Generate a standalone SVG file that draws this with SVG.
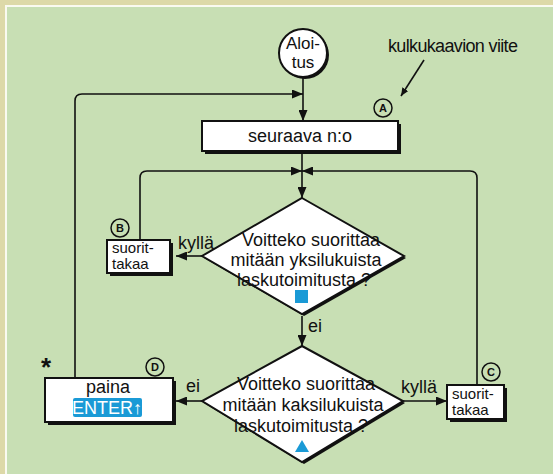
<svg xmlns="http://www.w3.org/2000/svg" width="553" height="474" viewBox="0 0 553 474">
<defs>
<marker id="ah" markerWidth="11" markerHeight="9" refX="11" refY="4.5" orient="auto" markerUnits="userSpaceOnUse">
<path d="M0,0 L11,4.5 L0,9 z" fill="#111"/>
</marker>
<marker id="ahs" markerWidth="8" markerHeight="7" refX="8" refY="3.5" orient="auto" markerUnits="userSpaceOnUse">
<path d="M0,0 L8,3.5 L0,7 z" fill="#111"/>
</marker>
</defs>
<style>
text{font-family:"Liberation Sans",Arial,sans-serif;fill:#111;}
.t{font-size:18px;}
.s{font-size:15px;}
.lbl{font-size:11px;font-weight:bold;text-anchor:middle;}
.c{text-anchor:middle;}
.box{fill:#fff;stroke:#111;stroke-width:2;}
.sh{fill:#111;}
.ref{fill:none;stroke:#111;stroke-width:1.5;}
.con{fill:none;stroke:#111;stroke-width:1.6;}
</style>
<rect x="0" y="0" width="553" height="474" fill="#ddd9a8"/>
<rect x="5" y="5" width="548" height="469" fill="#fafaf0"/>
<rect x="7" y="7" width="546" height="467" fill="#c8dfb4"/>

<g id="connectors">
<path class="con" d="M303,78 L303,121" marker-end="url(#ah)"/>
<path class="con" d="M75,378 L75,101 Q75,94 82,94 L303,94" marker-end="url(#ah)"/>
<path class="con" d="M302,151 L302,198" marker-end="url(#ah)"/>
<path class="con" d="M140,240 L140,178 Q140,171 147,171 L302,171" marker-end="url(#ah)"/>
<path class="con" d="M477,385 L477,178 Q477,171 470,171 L302,171" marker-end="url(#ah)"/>
<path class="con" d="M202,256 L176,256" marker-end="url(#ah)"/>
<path class="con" d="M302,316 L302,346" marker-end="url(#ah)"/>
<path class="con" d="M202,401 L176,401" marker-end="url(#ah)"/>
<path class="con" d="M402,401 L447,401" marker-end="url(#ah)"/>
<path class="con" d="M424,60 L401,96" stroke-width="1.5" marker-end="url(#ahs)"/>
<text class="t" x="308" y="332">ei</text>
<text class="t" x="178" y="249">kyllä</text>
<text class="t" x="186" y="392">ei</text>
<text class="t" x="401" y="393">kyllä</text>
</g>

<g id="aloitus">
<circle cx="305" cy="55" r="24" class="sh"/>
<circle cx="303" cy="53" r="24" class="box"/>
<text class="c" x="303" y="49" style="font-size:17px">Aloi-</text>
<text class="c" x="303" y="68" style="font-size:17px">tus</text>
</g>

<g id="viite">
<text x="388" y="52" style="font-size:18px" textLength="130">kulkukaavion viite</text>
</g>

<g id="seuraava">
<rect x="205" y="124" width="196" height="30" class="sh"/>
<rect x="202" y="121" width="196" height="30" class="box"/>
<text class="t c" x="300" y="142">seuraava n:o</text>
<circle cx="383" cy="108" r="9" class="ref"/>
<text class="lbl" x="383" y="112">A</text>
</g>

<g id="decision1">
<polygon points="304,200 406,258 304,316 204,258" class="sh"/>
<polygon points="302,198 404,256 302,314 202,256" class="box"/>
<text class="t c" x="311" y="246">Voitteko suorittaa</text>
<text class="t c" x="306" y="266">mitään yksilukuista</text>
<text class="t c" x="304" y="286">laskutoimitusta ?</text>
<rect x="295" y="290" width="13" height="13" fill="#1a9ad6"/>
</g>

<g id="suoritB">
<rect x="110" y="243" width="63" height="33" class="sh"/>
<rect x="107" y="240" width="63" height="33" class="box"/>
<text class="s" x="112" y="253">suorit-</text>
<text class="s" x="112" y="269">takaa</text>
<circle cx="120" cy="228" r="9" class="ref"/>
<text class="lbl" x="120" y="232">B</text>
</g>

<g id="decision2">
<polygon points="304,348 405,403 304,464 204,403" class="sh"/>
<polygon points="302,346 403,401 302,462 202,401" class="box"/>
<text class="t c" x="306" y="390">Voitteko suorittaa</text>
<text class="t c" x="303" y="411">mitään kaksilukuista</text>
<text class="t c" x="301" y="432">laskutoimitusta ?</text>
<polygon points="302,440 309,452 295,452" fill="#1a9ad6"/>
</g>

<g id="painaD">
<rect x="48" y="381" width="128" height="44" class="sh"/>
<rect x="45" y="378" width="128" height="44" class="box"/>
<text class="t c" x="108" y="393">paina</text>
<rect x="73" y="398" width="69" height="19" rx="2" fill="#1a9ad6"/>
<text class="t c" x="107" y="414" style="fill:#fff">ENTER↑</text>
<circle cx="155" cy="367" r="9" class="ref"/>
<text class="lbl" x="155" y="371">D</text>
<text x="46" y="376" style="font-size:26px;font-weight:bold" text-anchor="middle">*</text>
</g>

<g id="suoritC">
<rect x="450" y="388" width="57" height="34" class="sh"/>
<rect x="447" y="385" width="57" height="34" class="box"/>
<text class="s" x="452" y="399">suorit-</text>
<text class="s" x="452" y="415">takaa</text>
<circle cx="491" cy="372" r="9" class="ref"/>
<text class="lbl" x="491" y="376">C</text>
</g>
</svg>
